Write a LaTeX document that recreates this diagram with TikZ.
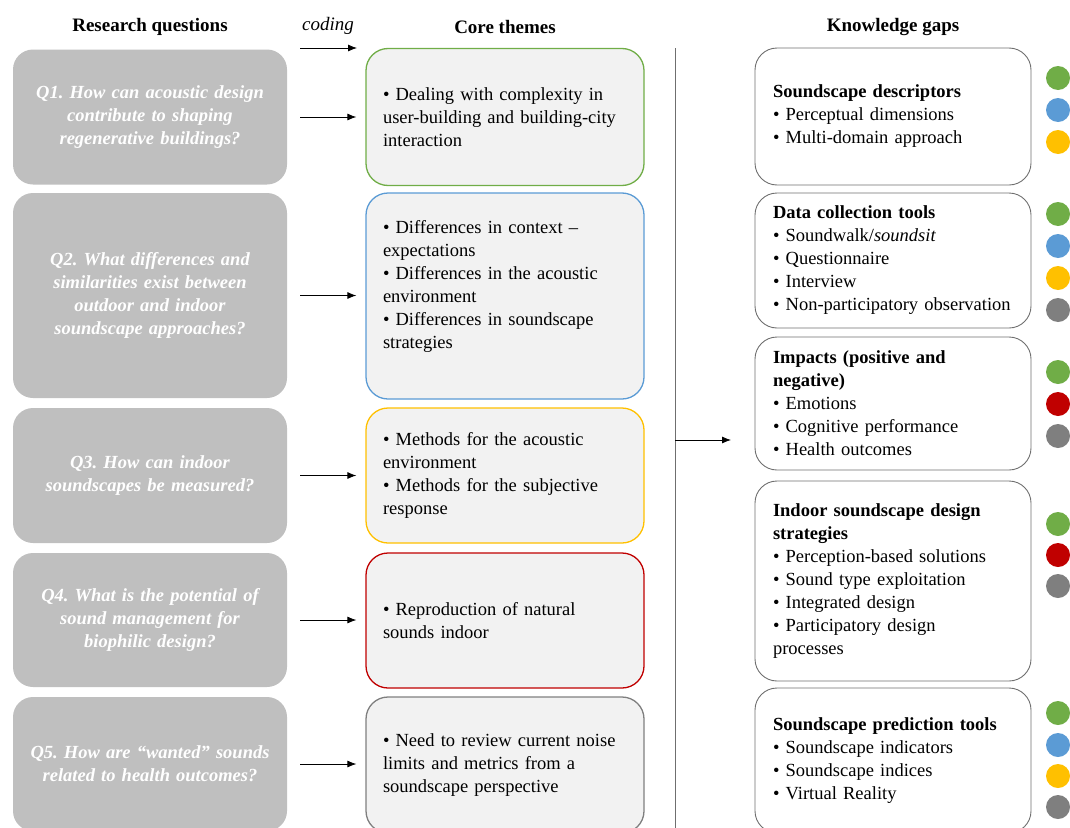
\documentclass[tikz,border=0pt]{standalone}
\usepackage{fontspec}
\setmainfont{Liberation Serif}
\usetikzlibrary{arrows.meta}
\definecolor{cgreen}{HTML}{70AD47}
\definecolor{cblue}{HTML}{5B9BD5}
\definecolor{cyellow}{HTML}{FFC000}
\definecolor{cred}{HTML}{C00000}
\definecolor{cgrey}{HTML}{7F7F7F}
\definecolor{qgray}{HTML}{BFBFBF}
\definecolor{tfill}{HTML}{F2F2F2}
\definecolor{gapline}{HTML}{6F6F6F}
\newcommand{\txtsize}{\fontsize{18.5}{23}\selectfont}
\newcommand{\headsize}{\fontsize{19}{23}\selectfont}
\frenchspacing
\begin{document}
\begin{tikzpicture}[x=1pt, y=-1pt,
  question/.style={fill=qgray, rounded corners=20pt, minimum width=274pt, text width=262pt, align=center, text=white, font=\txtsize\bfseries\itshape},
  theme/.style={draw, fill=tfill, line width=1.3pt, rounded corners=22pt, inner xsep=17pt, text width=244pt, align=left, font=\txtsize},
  gap/.style={draw=gapline, line width=0.9pt, rounded corners=22pt, inner xsep=18pt, text width=240pt, align=left, font=\txtsize},
  dot/.style={circle, minimum size=24pt, inner sep=0pt},
  heading/.style={font=\headsize\bfseries},
  link/.style={-{Latex[length=9pt,width=7pt]}, line width=0.8pt, shorten <=13pt, shorten >=9pt}]
  \useasboundingbox (0,0) rectangle (1070,827);
  % headings
  \node [heading] (hq) at (150,27) {Research questions};
  \node [font=\headsize\itshape] (hc) at (328,26) {coding};
  \node [heading] (ht) at (505,27) {Core themes};
  \node [heading] (hg) at (893,27) {Knowledge gaps};
  % research questions
  \node [question, minimum height=135pt] (q1) at (150,117) {Q1. How can acoustic design\\ contribute to shaping\\ regenerative buildings?};
  \node [question, minimum height=205pt] (q2) at (150,295.5) {Q2. What differences and\\ similarities exist between\\ outdoor and indoor\\ soundscape approaches?};
  \node [question, minimum height=135pt] (q3) at (150,475.5) {Q3. How can indoor\\ soundscapes be measured?};
  \node [question, minimum height=134pt] (q4) at (150,620) {Q4. What is the potential of\\ sound management for\\ biophilic design?};
  \node [question, minimum height=134pt] (q5) at (150,764) {Q5. How are “wanted” sounds\\ related to health outcomes?};
  % core themes
  \node [theme, draw=cgreen, minimum height=137pt] (t1) at (505,117) {• Dealing with complexity in\\ user-building and building-city\\ interaction};
  \node [theme, draw=cblue, minimum height=206pt] (t2) at (505,296) {• Differences in context –\\ expectations\\ • Differences in the acoustic\\ environment\\ • Differences in soundscape\\ strategies\\ \mbox{}};
  \node [theme, draw=cyellow, minimum height=135pt] (t3) at (505,475.5) {• Methods for the acoustic\\ environment\\ • Methods for the subjective\\ response};
  \node [theme, draw=cred, minimum height=135pt] (t4) at (505,620.5) {• Reproduction of natural\\ sounds indoor};
  \node [theme, draw=cgrey, minimum height=136pt] (t5) at (505,765) {• Need to review current noise\\ limits and metrics from a\\ soundscape perspective};
  % knowledge gaps
  \node [gap, minimum height=137pt] (g1) at (893,116.5) {\textbf{Soundscape descriptors}\\ • Perceptual dimensions\\ • Multi-domain approach};
  \node [gap, minimum height=135pt] (g2) at (893,260.5) {\textbf{Data collection tools}\\ • Soundwalk/\textit{soundsit}\\ • Questionnaire\\ • Interview\\ • Non-participatory observation};
  \node [gap, minimum height=133pt] (g3) at (893,403.5) {\textbf{Impacts (positive and}\\ \textbf{negative)}\\ • Emotions\\ • Cognitive performance\\ • Health outcomes};
  \node [gap, minimum height=200pt] (g4) at (893,581) {\textbf{Indoor soundscape design}\\ \textbf{strategies}\\ • Perception-based solutions\\ • Sound type exploitation\\ • Integrated design\\ • Participatory design\\ processes};
  \node [gap, minimum height=145pt] (g5) at (893,760.5) {\textbf{Soundscape prediction tools}\\ • Soundscape indicators\\ • Soundscape indices\\ • Virtual Reality};
  % coloured markers
  \foreach \y/\c [count=\i] in {78/cgreen, 110/cblue, 142/cyellow,
      214/cgreen, 246/cblue, 278/cyellow, 310/cgrey,
      372/cgreen, 404/cred, 436/cgrey,
      524/cgreen, 555/cred, 586/cgrey,
      713/cgreen, 745/cblue, 776/cyellow, 807/cgrey}
    \node [dot, fill=\c] (dot\i) at (1058,\y) {};
  % arrows
  \coordinate (cs) at (287,48);
  \coordinate (ce) at (366,48);
  \draw [link] (cs) -- (ce);
  \foreach \n in {1,...,5}
    \draw [link] (q\n.east) -- (q\n.east -| t\n.west);
  \coordinate (vtop) at (675,48);
  \coordinate (vbot) at (675,830);
  \coordinate (vmid) at (675,440);
  \coordinate (gin) at (740,440);
  \draw [gapline, line width=0.9pt] (vtop) -- (vbot);
  \draw [link, shorten <=0pt] (vmid) -- (gin);
\end{tikzpicture}
\end{document}
